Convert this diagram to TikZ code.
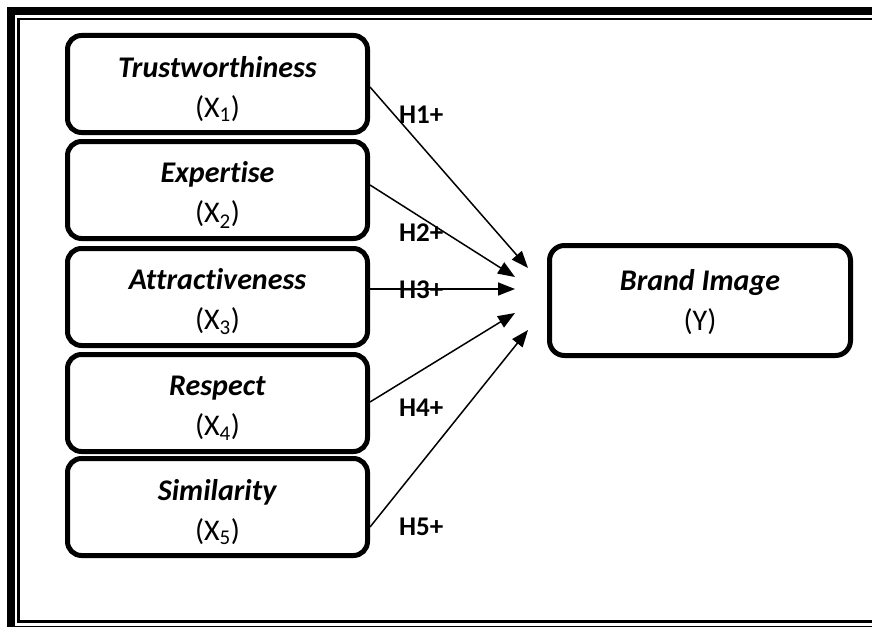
\documentclass[tikz,border=0pt]{standalone}
\usepackage{fontspec}
\setmainfont[Ligatures=NoCommon]{Carlito}
\usetikzlibrary{arrows.meta}
\begin{document}
\begin{tikzpicture}[x=1pt,y=-1pt,
  box/.style={draw, line width=5pt, rounded corners=14pt, minimum width=300pt, minimum height=97pt, inner sep=0pt},
  ybox/.style={draw, line width=5pt, rounded corners=15pt, minimum width=301pt, minimum height=110pt, inner sep=0pt},
  ttl/.style={align=center, font=\fontsize{30}{40}\selectfont, inner sep=0pt},
  hyp/.style={font=\fontsize{27}{30}\selectfont\bfseries, anchor=west, inner sep=0pt},
  arr/.style={line width=1.5pt, -{Triangle[length=17pt,width=13pt]}}]
\useasboundingbox (0,0) rectangle (872,626);
\draw[line width=8pt] (11,11) rectangle (900,630);
\draw[line width=2.5pt] (18.5,19.25) rectangle (890,621.5);

\node[box] (b1) at (217.5,84) {};
\node[box] (b2) at (217.5,190) {};
\node[box] (b3) at (217.5,297) {};
\node[box] (b4) at (217.5,403) {};
\node[box] (b5) at (217.5,507) {};
\node[ybox] (y) at (700,300.5) {};

\node[ttl] (t1) at ([shift={(0,5)}]b1.center) {\textbf{\textit{Trustworthiness}}\\(X\textsubscript{1})};
\node[ttl] (t2) at ([shift={(0,5)}]b2.center) {\textbf{\textit{Expertise}}\\(X\textsubscript{2})};
\node[ttl] (t3) at ([shift={(0,5)}]b3.center) {\textbf{\textit{Attractiveness}}\\(X\textsubscript{3})};
\node[ttl] (t4) at ([shift={(0,5)}]b4.center) {\textbf{\textit{Respect}}\\(X\textsubscript{4})};
\node[ttl] (t5) at ([shift={(0,5)}]b5.center) {\textbf{\textit{Similarity}}\\(X\textsubscript{5})};
\node[ttl] (ty) at ([shift={(0,1.5)}]y.center) {\textbf{\textit{Brand Image}}\\(Y)};

\coordinate (e1) at (528,268);
\coordinate (e2) at (515,277);
\coordinate (e3) at (515,289);
\coordinate (e4) at (515,313);
\coordinate (e5) at (528,330);

\draw[arr] ([shift={(0,3)}]b1.east) -- (e1);
\draw[arr] ([shift={(0,-5)}]b2.east) -- (e2);
\draw[arr] ([shift={(0,-8)}]b3.east) -- (e3);
\draw[arr] ([shift={(0,-1)}]b4.east) -- (e4);
\draw[arr] ([shift={(0,20)}]b5.east) -- (e5);

\node[hyp] (h1) at (399,115) {H1+};
\node[hyp] (h2) at (399,233) {H2+};
\node[hyp] (h3) at (399,290) {H3+};
\node[hyp] (h4) at (399,408) {H4+};
\node[hyp] (h5) at (399,527) {H5+};
\end{tikzpicture}
\end{document}
